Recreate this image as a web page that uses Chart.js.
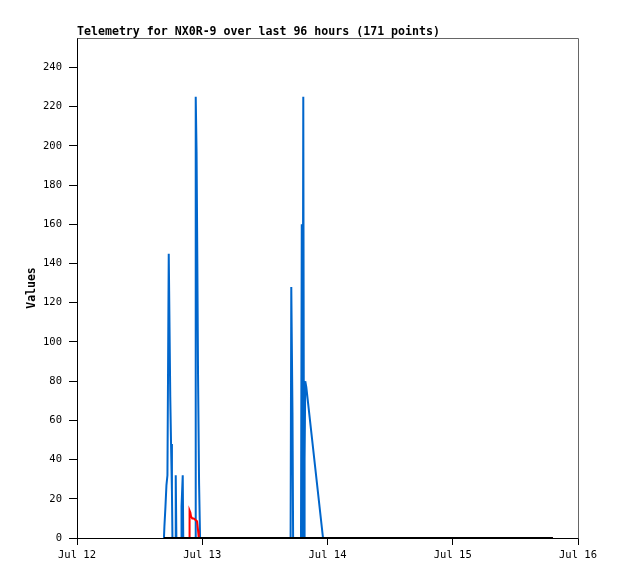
<!DOCTYPE html>
<html><head><meta charset="utf-8">
<script src="https://cdn.jsdelivr.net/npm/chart.js@4.4.0/dist/chart.umd.min.js"></script>
<style>html,body{margin:0;padding:0;background:#fff}#wrap{width:618px;height:579px}</style>
</head><body><div id="wrap"><canvas id="c" width="618" height="579"></canvas></div>
<script>
const chartTitle = 'Telemetry for NX0R-9 over last 96 hours (171 points)';
const yAxisTitle = 'Values';
const xTickLabels = ['Jul 12', 'Jul 13', 'Jul 14', 'Jul 15', 'Jul 16'];

// hours since Jul 12 00:00
const blueTimes = [16.66, 16.75, 16.95, 17.14, 17.33, 17.58, 17.87, 18.02, 18.19, 18.29,
  18.82, 18.92, 19.04, 19.94, 20.03, 20.26, 20.36,
  22.62, 22.75, 22.91, 23.06, 23.19, 23.39, 23.58,
  40.93, 41.06, 41.29, 41.41,
  42.92, 43.07, 43.21, 43.36, 43.50, 43.61, 43.74, 43.94, 47.14, 91.19];
const blueValues = [0, 6, 16, 27, 32, 145, 72, 48, 24, 0,
  0, 32, 0, 0, 16, 32, 0,
  0, 225, 197, 140, 84, 28, 0,
  0, 128, 64, 0,
  0, 160, 0, 225, 0, 40, 80, 77, 0, 0];

const redTimes = [16.66, 21.47, 21.57, 21.72, 21.85, 22.08, 22.37, 23.00, 23.19, 23.33, 91.19];
const redValues = [0, 0, 14, 13, 11, 10, 10, 8.5, 4, 0, 0];

const blackTimes = [16.66, 91.19];
const blackValues = [0, 0];

const toPts = (ts, vs) => ts.map((t, i) => ({ x: t, y: vs[i] }));
const tickFont = { family: 'DejaVu Sans Mono', size: 10.5 };

const framePlugin = {
  id: 'frame',
  afterDraw(chart) {
    const ctx = chart.ctx, a = chart.chartArea;
    ctx.save();
    ctx.strokeStyle = '#666';
    ctx.lineWidth = 1;
    ctx.beginPath();
    ctx.moveTo(Math.round(a.left) + 0.5, Math.round(a.top) + 0.5);
    ctx.lineTo(Math.round(a.right) + 0.5, Math.round(a.top) + 0.5);
    ctx.lineTo(Math.round(a.right) + 0.5, Math.round(a.bottom) + 0.5);
    ctx.stroke();
    ctx.fillStyle = '#000';
    ctx.font = 'bold 11.6px "DejaVu Sans Mono"';
    ctx.textAlign = 'left';
    ctx.textBaseline = 'alphabetic';
    ctx.fillText(chartTitle, a.left, a.top - 3);
    ctx.translate(32, (a.top + a.bottom) / 2);
    ctx.rotate(-Math.PI / 2);
    ctx.textAlign = 'center';
    ctx.textBaseline = 'middle';
    ctx.font = 'bold 11.5px "DejaVu Sans Mono"';
    ctx.fillText(yAxisTitle, 0, 0);
    ctx.restore();
  }
};

new Chart(document.getElementById('c'), {
  type: 'line',
  data: {
    datasets: [
      { data: toPts(blackTimes, blackValues), borderColor: '#000000', borderWidth: 2, order: 0 },
      { data: toPts(redTimes, redValues), borderColor: '#ff0000', borderWidth: 2, order: 1 },
      { data: toPts(blueTimes, blueValues), borderColor: '#0066cc', borderWidth: 2, order: 2 }
    ]
  },
  options: {
    responsive: false,
    animation: false,
    devicePixelRatio: 1,
    layout: { padding: { top: 38, right: 40, bottom: 0, left: 0 } },
    elements: { point: { radius: 0 }, line: { tension: 0, borderJoinStyle: 'miter' } },
    plugins: { legend: { display: false }, tooltip: { enabled: false }, title: { display: false } },
    scales: {
      x: {
        type: 'linear', min: 0, max: 96,
        ticks: {
          stepSize: 24, autoSkip: false, maxRotation: 0, color: '#000', font: tickFont, padding: 4,
          callback: (v) => xTickLabels[Math.round(v / 24)]
        },
        grid: { drawOnChartArea: false, drawTicks: true, tickLength: 7, color: '#000' },
        border: { color: '#000', width: 1 },
        afterFit: (s) => { s.height = 41; }
      },
      y: {
        min: 0, max: 255,
        ticks: { stepSize: 20, color: '#000', font: tickFont, padding: 7 },
        afterBuildTicks: (s) => { s.ticks = s.ticks.filter(t => t.value % 20 === 0); },
        grid: { drawOnChartArea: false, drawTicks: true, tickLength: 8, color: '#000' },
        border: { color: '#000', width: 1 },
        afterFit: (s) => { s.width = 77; }
      }
    }
  },
  plugins: [framePlugin]
});
</script>
</body></html>
